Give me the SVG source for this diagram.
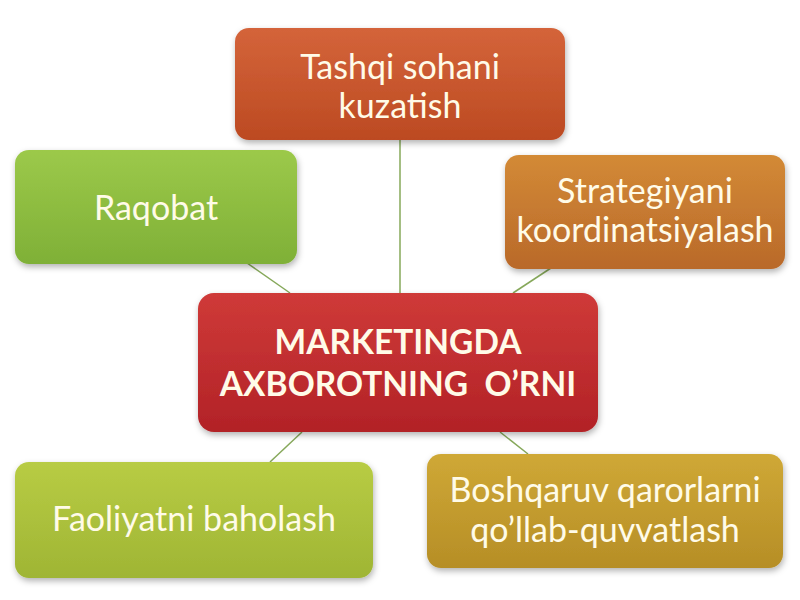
<svg xmlns="http://www.w3.org/2000/svg" width="800" height="600" viewBox="0 0 800 600">
<defs>
<filter id="sh" x="-10%" y="-10%" width="125%" height="130%">
<feDropShadow dx="1" dy="3" stdDeviation="3" flood-color="#000" flood-opacity="0.3"/>
</filter>
<linearGradient id="gTop" x1="0" y1="0" x2="0" y2="1"><stop offset="0" stop-color="#d4643a"/><stop offset="1" stop-color="#bc4a22"/></linearGradient>
<linearGradient id="gRaq" x1="0" y1="0" x2="0" y2="1"><stop offset="0" stop-color="#9cc94a"/><stop offset="1" stop-color="#7fb037"/></linearGradient>
<linearGradient id="gStr" x1="0" y1="0" x2="0" y2="1"><stop offset="0" stop-color="#d38a36"/><stop offset="1" stop-color="#b9692a"/></linearGradient>
<linearGradient id="gCen" x1="0" y1="0" x2="0" y2="1"><stop offset="0" stop-color="#cf3a38"/><stop offset="1" stop-color="#b22227"/></linearGradient>
<linearGradient id="gFao" x1="0" y1="0" x2="0" y2="1"><stop offset="0" stop-color="#b8cc44"/><stop offset="1" stop-color="#9fb534"/></linearGradient>
<linearGradient id="gBos" x1="0" y1="0" x2="0" y2="1"><stop offset="0" stop-color="#cfa836"/><stop offset="1" stop-color="#b68e26"/></linearGradient>
</defs>
<style>
.box{filter:url(#sh);}
.t{font-family:Lato,"Open Sans","Liberation Sans",sans-serif;fill:#fffbe8;text-anchor:middle;font-size:34px;}
.tc{font-family:Lato,"Open Sans","Liberation Sans",sans-serif;fill:#fffbe8;text-anchor:middle;font-size:33.5px;font-weight:bold;}
.ln{stroke:#86a85a;stroke-width:1.5;fill:none;}
</style>
<rect width="800" height="600" fill="#ffffff"/>
<g id="connectors">
<line class="ln" x1="400" y1="140" x2="400" y2="293"/>
<line class="ln" x1="247" y1="263" x2="290" y2="293"/>
<line class="ln" x1="551" y1="268" x2="513" y2="293"/>
<line class="ln" x1="302" y1="432" x2="270" y2="462"/>
<line class="ln" x1="500" y1="432" x2="528" y2="454"/>
</g>
<g id="node-top">
<rect class="box" x="235" y="28" width="330" height="112" rx="14" fill="url(#gTop)"/>
<text class="t" x="400" y="79">Tashqi sohani</text>
<text class="t" x="400" y="118">kuzatish</text>
</g>
<g id="node-raqobat">
<rect class="box" x="15" y="150" width="282" height="114" rx="14" fill="url(#gRaq)"/>
<text class="t" x="156" y="220">Raqobat</text>
</g>
<g id="node-strategiyani">
<rect class="box" x="505" y="155" width="280" height="114" rx="14" fill="url(#gStr)"/>
<text class="t" x="645" y="203">Strategiyani</text>
<text class="t" x="645" y="242">koordinatsiyalash</text>
</g>
<g id="node-center">
<rect class="box" x="198" y="293" width="400" height="139" rx="16" fill="url(#gCen)"/>
<text class="tc" x="398" y="354">MARKETINGDA</text>
<text class="tc" x="398" y="396" xml:space="preserve">AXBOROTNING  O’RNI</text>
</g>
<g id="node-faoliyatni">
<rect class="box" x="15" y="462" width="358" height="116" rx="14" fill="url(#gFao)"/>
<text class="t" x="194" y="531">Faoliyatni baholash</text>
</g>
<g id="node-boshqaruv">
<rect class="box" x="427" y="454" width="356" height="114" rx="14" fill="url(#gBos)"/>
<text class="t" x="605" y="502">Boshqaruv qarorlarni</text>
<text class="t" x="605" y="542">qo’llab-quvvatlash</text>
</g>
</svg>
